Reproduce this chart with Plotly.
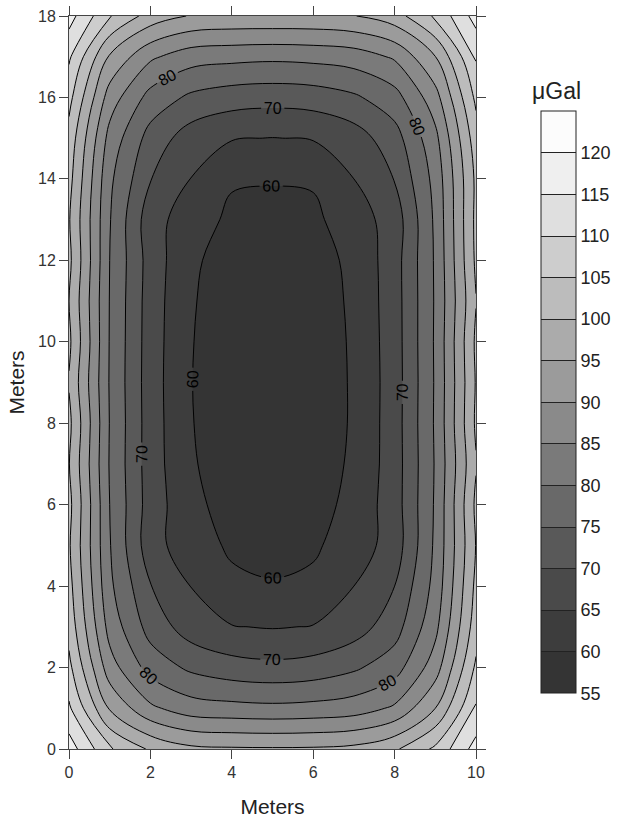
import plotly.graph_objects as go

# ---- data ----
x_m = [0, 1, 2, 3, 4, 5, 6, 7, 8, 9, 10]
y_m = list(range(19))
# gravity anomaly (microGal); one row per y (0 .. 18 m), columns x = 0 .. 10 m
z_ugal = [
    [117.5, 105.5, 99.3, 96.1, 95.6, 95.5, 95.6, 96.3, 99.2, 106.0, 117.0],
    [110.8, 94.5, 86.0, 82.3, 81.6, 81.2, 81.6, 82.5, 85.8, 95.0, 110.5],
    [106.3, 87.2, 78.0, 74.0, 72.0, 71.3, 72.0, 74.2, 77.8, 87.6, 105.9],
    [103.2, 83.1, 73.0, 67.5, 65.2, 64.7, 65.2, 67.6, 72.8, 83.6, 102.6],
    [101.7, 81.0, 70.2, 64.9, 61.0, 60.4, 61.0, 65.0, 70.0, 81.6, 101.2],
    [100.6, 80.3, 67.0, 62.1, 59.3, 58.3, 59.3, 62.3, 67.2, 80.9, 100.2],
    [101.4, 80.0, 67.6, 61.3, 58.0, 57.5, 58.0, 61.5, 67.6, 80.6, 101.0],
    [100.2, 79.6, 67.4, 60.5, 57.5, 57.0, 57.5, 60.8, 67.5, 80.4, 99.6],
    [101.2, 79.8, 67.4, 60.2, 57.4, 56.9, 57.4, 60.5, 67.6, 80.6, 100.8],
    [99.6, 79.6, 67.3, 60.1, 57.4, 56.9, 57.4, 60.5, 67.5, 80.5, 100.4],
    [101.0, 79.7, 67.4, 60.2, 57.4, 56.9, 57.4, 60.6, 67.6, 80.6, 100.9],
    [100.0, 79.8, 67.5, 60.4, 57.6, 57.0, 57.6, 60.8, 67.7, 80.5, 99.8],
    [101.2, 80.0, 67.8, 60.7, 58.2, 57.5, 58.2, 61.0, 67.8, 80.6, 100.9],
    [100.4, 80.3, 67.0, 62.4, 59.0, 58.6, 59.0, 62.6, 67.2, 80.9, 101.2],
    [101.7, 81.0, 70.2, 64.9, 60.5, 60.3, 60.5, 65.0, 70.2, 81.6, 101.0],
    [103.2, 83.2, 73.0, 67.5, 65.3, 64.9, 65.3, 67.6, 72.9, 83.6, 102.7],
    [106.6, 87.6, 78.2, 74.0, 72.3, 71.8, 72.3, 74.2, 78.0, 88.0, 106.1],
    [110.8, 94.4, 85.9, 82.2, 81.5, 81.1, 81.5, 82.4, 85.7, 94.9, 110.5],
    [117.0, 105.3, 97.9, 94.6, 94.0, 94.0, 94.0, 94.8, 97.8, 105.7, 117.0],
]
level_start, level_end, level_step = 55, 125, 5
colorbar_ticks = [55, 60, 65, 70, 75, 80, 85, 90, 95, 100, 105, 110, 115, 120]
labelled_levels = [60, 70, 80]
# fill colour for each 5 uGal band, 55-60 ... 120-125
band_colors = ["#343434", "#3d3d3d", "#4a4a4a", "#595959", "#696969", "#7a7a7a",
               "#8a8a8a", "#9b9b9b", "#ababab", "#bcbcbc", "#cdcdcd", "#dfdfdf",
               "#efefef", "#fcfcfc"]

# colorscale for the contour fill, sampled at band centres (plotly 'fill' mapping)
stops = [band_colors[0]] + band_colors + ["#ffffff"]
n = len(stops) - 1
fill_scale = [[i / n, c] for i, c in enumerate(stops)]
# stepped colorscale spanning exactly 55..125 for the colour bar
nb = len(band_colors)
bar_scale = []
for i, c in enumerate(band_colors):
    bar_scale += [[i / nb, c], [(i + 1) / nb, c]]

FONT = "Liberation Sans, Arial, sans-serif"
SMOOTH = 1.0

fig = go.Figure()

# colour-bar carrier (single cell, hidden beneath the contour fill)
fig.add_trace(go.Heatmap(
    z=[[level_start]], x=[5], y=[9], zmin=level_start, zmax=level_end,
    colorscale=bar_scale, hoverinfo="skip",
    colorbar=dict(
        thickness=35, thicknessmode="pixels",
        len=582, lenmode="pixels",
        x=1.159, xanchor="left", xpad=0,
        y=0.870, yanchor="top", ypad=0,
        outlinewidth=1, outlinecolor="#222",
        tickmode="array", tickvals=colorbar_ticks,
        ticks="inside", ticklen=35, tickwidth=1, tickcolor="#222",
        tickfont=dict(family=FONT, size=18, color="#222"),
    ),
))

# filled contour bands
fig.add_trace(go.Contour(
    x=x_m, y=y_m, z=z_ugal, colorscale=fill_scale, showscale=False,
    contours=dict(coloring="fill", start=level_start, end=level_end,
                  size=level_step, showlines=False),
    line=dict(width=0, smoothing=SMOOTH),
    hovertemplate="x=%{x} m<br>y=%{y} m<br>%{z:.1f} µGal<extra></extra>",
))

# unlabelled contour lines
for s, e, d in [(85, 120, 5), (65, 75, 10)]:
    fig.add_trace(go.Contour(
        x=x_m, y=y_m, z=z_ugal, showscale=False,
        contours=dict(coloring="none", start=s, end=e, size=d),
        line=dict(color="black", width=1, smoothing=SMOOTH),
        hoverinfo="skip",
    ))

# labelled contour lines (60, 70, 80); extra empty levels far below the data
# only tighten plotly's label spacing so each line gets several labels
lab_step = labelled_levels[1] - labelled_levels[0]
fig.add_trace(go.Contour(
    x=x_m, y=y_m, z=z_ugal, showscale=False,
    contours=dict(coloring="none", start=labelled_levels[0] - 34 * lab_step,
                  end=labelled_levels[-1], size=lab_step, showlabels=True,
                  labelfont=dict(family=FONT, size=16, color="black")),
    line=dict(color="black", width=1, smoothing=SMOOTH),
    hoverinfo="skip",
))

axis_common = dict(
    showline=True, linecolor="#444", linewidth=1, mirror="ticks",
    ticks="outside", ticklen=9, tickwidth=1, tickcolor="#444",
    showgrid=False, zeroline=False, dtick=2,
    tickfont=dict(family=FONT, size=16, color="#333"),
)

fig.update_layout(
    width=617, height=818,
    margin=dict(l=69, r=141, t=16, b=69, autoexpand=False),
    paper_bgcolor="white", plot_bgcolor="white",
    xaxis=dict(range=[0, 10], title=dict(text="Meters", standoff=19,
               font=dict(family=FONT, size=21, color="#222")), **axis_common),
    yaxis=dict(range=[0, 18], title=dict(text="Meters", standoff=7,
               font=dict(family=FONT, size=21, color="#222")), **axis_common),
    annotations=[dict(text="μGal", xref="paper", yref="paper",
                      x=1.197, y=0.897, xanchor="center", yanchor="middle",
                      showarrow=False,
                      font=dict(family=FONT, size=23, color="#222"))],
    showlegend=False,
)

fig.write_html("out.html",
               config={"displayModeBar": False},
               post_script="document.body.style.margin='0px';"
                           "document.body.style.overflow='hidden';")
